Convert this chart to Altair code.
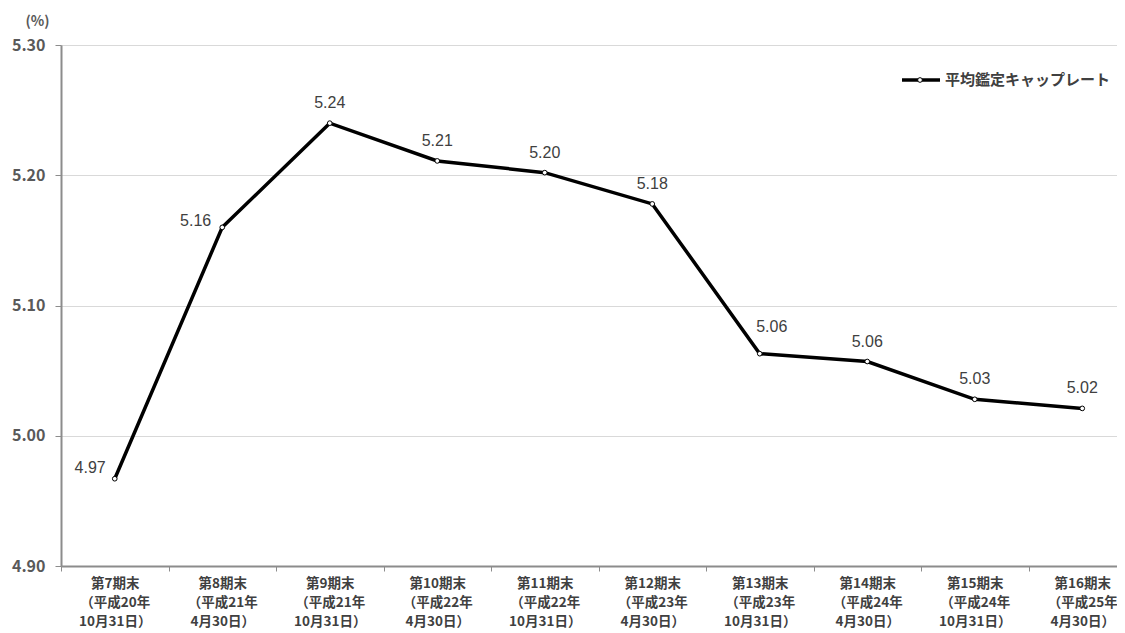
import altair as alt
import pandas as pd

# ---- data ----
periods = ["第7期末", "第8期末", "第9期末", "第10期末", "第11期末",
           "第12期末", "第13期末", "第14期末", "第15期末", "第16期末"]
eras = ["（平成20年", "（平成21年", "（平成21年", "（平成22年", "（平成22年",
        "（平成23年", "（平成23年", "（平成24年", "（平成24年", "（平成25年"]
dates = ["10月31日）", "4月30日）", "10月31日）", "4月30日）", "10月31日）",
         "4月30日）", "10月31日）", "4月30日）", "10月31日）", "4月30日）"]
cap_rate = [4.967, 5.160, 5.240, 5.211, 5.202, 5.178, 5.063, 5.057, 5.028, 5.021]
series_name = "平均鑑定キャップレート"
y_ticks = [4.90, 5.00, 5.10, 5.20, 5.30]
y_unit = "(%)"

cats = ["|".join(t) for t in zip(periods, eras, dates)]
df = pd.DataFrame({"cat": cats, "rate": cap_rate, "idx": list(range(len(cats)))})
leg = pd.DataFrame({"s": [series_name]})

W, H = 1056, 521
STEP = 107.5

x_enc = alt.X(
    "cat:N", sort=cats,
    scale=alt.Scale(type="band", range=[0, STEP * len(cats)], paddingInner=0, paddingOuter=0),
    axis=alt.Axis(
        title=None, labelAngle=0, labelExpr="split(datum.label, '|')",
        labelFont="Noto Sans CJK JP", labelFontSize=13.5, labelLineHeight=19,
        labelColor="#404040", labelFontWeight="bold", labelPadding=5,
        tickBand="extent", tickSize=5, tickColor="#8c8c8c", domainColor="#8c8c8c",
        domainWidth=2, grid=False, labelBaseline="top",
    ),
)
y_enc = alt.Y(
    "rate:Q",
    scale=alt.Scale(domain=[4.9, 5.3], zero=False, nice=False),
    axis=alt.Axis(
        title=y_unit, titleAngle=0, titleX=-24, titleY=-24, titleAlign="center",
        titleBaseline="middle", titleFont="Noto Sans CJK JP", titleFontSize=14,
        titleFontWeight="bold", titleColor="#595959",
        values=y_ticks, format=".2f", labelFont="Noto Sans CJK JP", labelFontSize=16,
        labelFontWeight="bold", labelColor="#595959", labelPadding=10,
        tickSize=6, tickColor="#8c8c8c", domainColor="#8c8c8c", domainWidth=2,
        grid=True, gridColor="#d9d9d9", gridWidth=1,
    ),
)

base = alt.Chart(df)
line = base.mark_line(color="black", strokeWidth=3.5).encode(x=x_enc, y=y_enc)
pts = base.mark_point(shape="circle", filled=True, fill="white", stroke="black",
                      strokeWidth=1, size=22, opacity=1).encode(x=x_enc, y=y_enc)

txt_style = dict(font="Liberation Sans", fontSize=16, color="#404040", baseline="middle")
txt_enc = dict(x=x_enc, y=y_enc, text=alt.Text("rate:Q", format=".2f"))
lab_main = base.transform_filter("datum.idx >= 2 && datum.idx != 6").mark_text(
    dy=-20, **txt_style).encode(**txt_enc)
lab_6 = base.transform_filter("datum.idx == 6").mark_text(
    dx=12, dy=-27, **txt_style).encode(**txt_enc)
lab_1 = base.transform_filter("datum.idx == 1").mark_text(
    align="right", dx=-11, dy=-6, **txt_style).encode(**txt_enc)
lab_0 = base.transform_filter("datum.idx == 0").mark_text(
    align="right", dx=-9, dy=-11, **txt_style).encode(**txt_enc)

# legend (drawn by hand, like the original)
lg = alt.Chart(leg)
leg_line = lg.mark_rule(color="black", strokeWidth=3.5).encode(
    x=alt.value(841), x2=alt.value(879), y=alt.value(35))
leg_pt = lg.mark_point(shape="circle", filled=True, fill="white", stroke="black",
                       strokeWidth=1, size=22, opacity=1).encode(x=alt.value(859), y=alt.value(35))
leg_txt = lg.mark_text(align="left", baseline="middle", font="Noto Sans CJK JP", fontSize=15,
                       fontWeight="bold", color="#404040").encode(
    x=alt.value(884), y=alt.value(35), text="s:N")

chart = alt.layer(line, pts, lab_main, lab_6, lab_1, lab_0, leg_line, leg_pt, leg_txt).properties(
    width=W, height=H,
    autosize=alt.AutoSizeParams(type="none"),
    padding={"left": 53, "top": 37, "right": 0, "bottom": 64},
).configure_view(strokeWidth=0).configure(background="white")

chart.save("out.html", embed_options={"renderer": "svg", "actions": False})
